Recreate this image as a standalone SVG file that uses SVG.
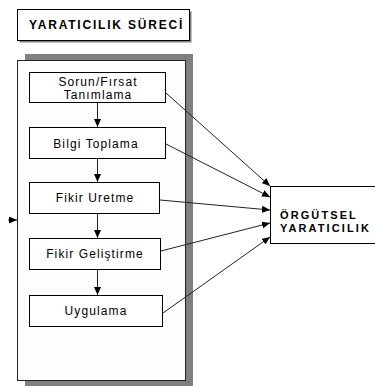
<svg xmlns="http://www.w3.org/2000/svg" width="375" height="386" viewBox="0 0 375 386">
<defs>
<marker id="ah" markerUnits="userSpaceOnUse" markerWidth="8" markerHeight="7" refX="8" refY="3.5" orient="auto">
<path d="M0,0 L8,3.5 L0,7 z" fill="#000"/>
</marker>
<style>
.box{fill:#fff;stroke:#000;stroke-width:1}
.t{font-family:"Liberation Sans",Arial,sans-serif;font-size:12px;letter-spacing:1.1px;fill:#000;text-anchor:middle}
.b{font-family:"Liberation Sans",Arial,sans-serif;font-size:12px;font-weight:bold;fill:#000}
.o{font-family:"Liberation Sans",Arial,sans-serif;font-size:11px;font-weight:bold;fill:#000;letter-spacing:2.1px}
.c{stroke:#222;stroke-width:1;fill:none;marker-end:url(#ah)}
</style>
</defs>
<rect width="375" height="386" fill="#fff"/>
<g id="title">
<rect x="19.5" y="11.5" width="172" height="31" fill="#808080"/>
<rect x="17.5" y="9.5" width="172" height="31" class="box"/>
<text x="29" y="29" class="b" letter-spacing="1.8">YARATICILIK SÜRECİ</text>
</g>
<g id="process">
<rect x="25" y="54" width="168" height="332" fill="#808080"/>
<rect x="17.5" y="60.5" width="168" height="320" fill="#fdfdfd" stroke="#222" stroke-width="1"/>
</g>
<g id="n1">
<rect x="29.5" y="72.5" width="136" height="30" class="box"/>
<text x="98" y="86" class="t">Sorun/Fırsat</text>
<text x="98" y="98.5" class="t">Tanımlama</text>
</g>
<g id="n2">
<rect x="29.5" y="127.5" width="136" height="31" class="box"/>
<text x="96" y="147.5" class="t">Bilgi Toplama</text>
</g>
<g id="n3">
<rect x="29.5" y="182.5" width="130" height="31" class="box"/>
<text x="95" y="202" class="t">Fikir Uretme</text>
</g>
<g id="n4">
<rect x="29.5" y="238.5" width="131" height="31" class="box"/>
<text x="95" y="258" class="t">Fikir Geliştirme</text>
</g>
<g id="n5">
<rect x="29.5" y="295.5" width="133" height="31" class="box"/>
<text x="96" y="315" class="t">Uygulama</text>
</g>
<g id="out">
<rect x="270.5" y="186.5" width="110" height="57" class="box"/>
<text x="280" y="219" class="o">ÖRGÜTSEL</text>
<text x="280" y="232" class="o">YARATICILIK</text>
</g>
<g id="connectors">
<line x1="97.5" y1="103" x2="97.5" y2="127" class="c"/>
<line x1="97.5" y1="159" x2="97.5" y2="182" class="c"/>
<line x1="97.5" y1="214" x2="97.5" y2="238" class="c"/>
<line x1="97.5" y1="270" x2="97.5" y2="295" class="c"/>
<line x1="8" y1="220" x2="17" y2="220" class="c"/>
<line x1="166" y1="93" x2="270" y2="186" class="c"/>
<line x1="166" y1="144" x2="270" y2="197" class="c"/>
<line x1="160" y1="200" x2="270" y2="210" class="c"/>
<line x1="161" y1="251" x2="270" y2="223" class="c"/>
<line x1="163" y1="313" x2="270" y2="237" class="c"/>
</g>
</svg>
